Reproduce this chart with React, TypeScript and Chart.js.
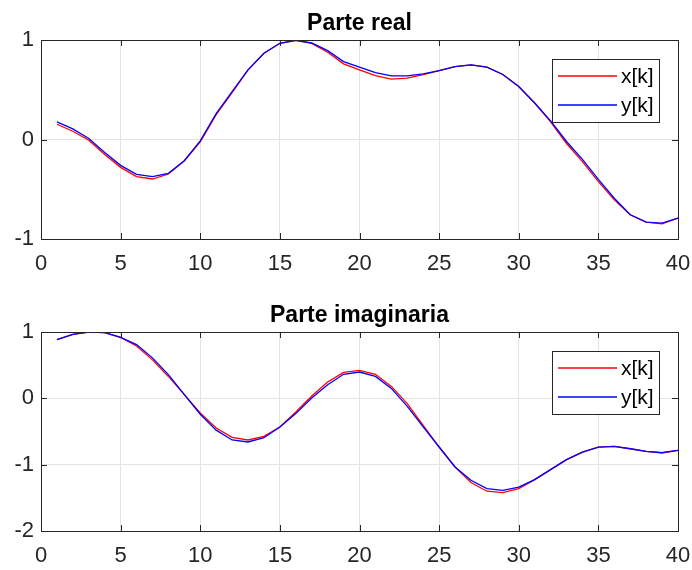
import React, { useEffect, useRef } from "react";
import { Chart, registerables } from "chart.js";
Chart.register(...registerables);

const kValues = [1,2,3,4,5,6,7,8,9,10,11,12,13,14,15,16,17,18,19,20,21,22,23,24,25,26,27,28,29,30,31,32,33,34,35,36,37,38,39,40];

const realX = [0.153,0.083,-0.007,-0.15,-0.28,-0.373,-0.397,-0.347,-0.213,-0.023,0.25,0.47,0.70,0.867,0.967,0.997,0.965,0.877,0.76,0.70,0.643,0.607,0.617,0.653,0.693,0.733,0.75,0.727,0.653,0.533,0.367,0.177,-0.04,-0.223,-0.423,-0.607,-0.757,-0.83,-0.847,-0.79];
const realY = [0.177,0.107,0.01,-0.13,-0.26,-0.35,-0.373,-0.34,-0.213,-0.013,0.26,0.48,0.70,0.867,0.967,0.997,0.97,0.893,0.783,0.727,0.673,0.64,0.64,0.66,0.693,0.733,0.75,0.727,0.653,0.533,0.367,0.187,-0.02,-0.2,-0.4,-0.59,-0.757,-0.83,-0.84,-0.79];
const imagX = [0.884,0.965,1.0,0.99,0.92,0.79,0.58,0.33,0.055,-0.22,-0.447,-0.588,-0.628,-0.573,-0.432,-0.206,0.035,0.246,0.392,0.422,0.362,0.18,-0.08,-0.407,-0.734,-1.035,-1.27,-1.40,-1.42,-1.36,-1.226,-1.075,-0.925,-0.81,-0.734,-0.724,-0.76,-0.8,-0.82,-0.784];
const imagY = [0.884,0.965,1.0,0.99,0.92,0.81,0.61,0.357,0.055,-0.24,-0.48,-0.628,-0.658,-0.593,-0.432,-0.23,0.005,0.206,0.362,0.397,0.33,0.15,-0.12,-0.43,-0.734,-1.035,-1.236,-1.36,-1.387,-1.337,-1.226,-1.075,-0.925,-0.81,-0.734,-0.724,-0.76,-0.8,-0.82,-0.784];

const seriesLabels = ["x[k]", "y[k]"];
const seriesColors = ["#ff0000", "#0000ff"];
const titles = ["Parte real", "Parte imaginaria"];

const FONT = "'Liberation Sans', Arial, Helvetica, sans-serif";
const AX = "#262626";
const GRID = "#e3e3e3";

const decorPlugin = {
  id: "decor",
  afterDatasetsDraw(chart: any) {
    const { ctx, chartArea: a } = chart;
    const xs = chart.scales.x;
    const ys = chart.scales.y;
    ctx.save();
    ctx.strokeStyle = AX;
    ctx.lineWidth = 1;
    ctx.beginPath();
    const L = 6;
    xs.ticks.forEach((t: any) => {
      const px = Math.round(xs.getPixelForValue(t.value)) + 0.5;
      ctx.moveTo(px, a.bottom); ctx.lineTo(px, a.bottom - L);
      ctx.moveTo(px, a.top); ctx.lineTo(px, a.top + L);
    });
    ys.ticks.forEach((t: any) => {
      const py = Math.round(ys.getPixelForValue(t.value)) + 0.5;
      ctx.moveTo(a.left, py); ctx.lineTo(a.left + L, py);
      ctx.moveTo(a.right, py); ctx.lineTo(a.right - L, py);
    });
    ctx.stroke();
    ctx.strokeRect(Math.round(a.left) + 0.5, Math.round(a.top) + 0.5, Math.round(a.right - a.left), Math.round(a.bottom - a.top));
    // title
    const title = chart.options.plugins.decor.title;
    ctx.fillStyle = "#000";
    ctx.font = `bold 23px ${FONT}`;
    ctx.textAlign = "center";
    ctx.textBaseline = "alphabetic";
    ctx.fillText(title, (a.left + a.right) / 2, a.top - 10);
    // legend
    const bw = 107, bh = 63;
    const bx = Math.round(a.right - 19 - bw), by = Math.round(a.top + 19);
    ctx.fillStyle = "#fff";
    ctx.fillRect(bx, by, bw, bh);
    ctx.strokeStyle = AX;
    ctx.lineWidth = 1;
    ctx.strokeRect(bx + 0.5, by + 0.5, bw, bh);
    ctx.font = `21px ${FONT}`;
    ctx.textAlign = "left";
    ctx.textBaseline = "middle";
    seriesLabels.forEach((label: string, i: number) => {
      const ly = by + 17 + i * 29;
      ctx.beginPath();
      ctx.strokeStyle = seriesColors[i];
      ctx.lineWidth = 1.3;
      ctx.moveTo(bx + 6, ly); ctx.lineTo(bx + 65, ly);
      ctx.stroke();
      ctx.fillStyle = "#000";
      ctx.fillText(label, bx + 69, ly + 1);
    });
    ctx.restore();
  },
};

function makeConfig(title: string, a: number[], b: number[], yMin: number, yMax: number, padTop: number, xHeight: number): any {
  return {
    type: "line",
    data: {
      datasets: [
        { label: seriesLabels[0], data: kValues.map((k, i) => ({ x: k, y: a[i] })), borderColor: seriesColors[0], borderWidth: 1.3, pointRadius: 0, fill: false, tension: 0, order: 1 },
        { label: seriesLabels[1], data: kValues.map((k, i) => ({ x: k, y: b[i] })), borderColor: seriesColors[1], borderWidth: 1.3, pointRadius: 0, fill: false, tension: 0, order: 0 },
      ],
    },
    options: {
      animation: false,
      responsive: false,
      devicePixelRatio: 1,
      layout: { padding: { top: padTop, right: 14, left: 0, bottom: 0 } },
      plugins: { legend: { display: false }, tooltip: { enabled: false }, title: { display: false }, decor: { title } },
      scales: {
        x: {
          type: "linear", min: 0, max: 40,
          ticks: { stepSize: 5, font: { family: FONT, size: 22 }, color: AX, padding: 12, maxRotation: 0 },
          grid: { color: GRID, drawTicks: false },
          border: { display: false },
          afterFit: (s: any) => { s.height = xHeight; s.paddingLeft = 0; s.paddingRight = 0; },
        },
        y: {
          type: "linear", min: yMin, max: yMax,
          ticks: { stepSize: 1, font: { family: FONT, size: 22 }, color: AX, padding: 7 },
          grid: { color: GRID, drawTicks: false },
          border: { display: false },
          afterFit: (s: any) => { s.width = 41; s.paddingTop = 0; s.paddingBottom = 0; },
        },
      },
    },
    plugins: [decorPlugin],
  };
}

function Panel(props: { cfg: () => any; top: number }) {
  const ref = useRef<HTMLCanvasElement | null>(null);
  useEffect(() => {
    const chart = new Chart(ref.current as HTMLCanvasElement, props.cfg());
    return () => chart.destroy();
  }, []);
  return (
    <canvas ref={ref} width={692} height={285} style={{ position: "absolute", left: 0, top: props.top, width: 692, height: 285 }} />
  );
}

export default function App() {
  return (
    <div style={{ position: "absolute", left: 0, top: 0, width: 692, height: 570, background: "#fff" }}>
      <Panel top={0} cfg={() => makeConfig(titles[0], realX, realY, -1, 1, 40, 46)} />
      <Panel top={285} cfg={() => makeConfig(titles[1], imagX, imagY, -2, 1, 47, 39)} />
    </div>
  );
}
